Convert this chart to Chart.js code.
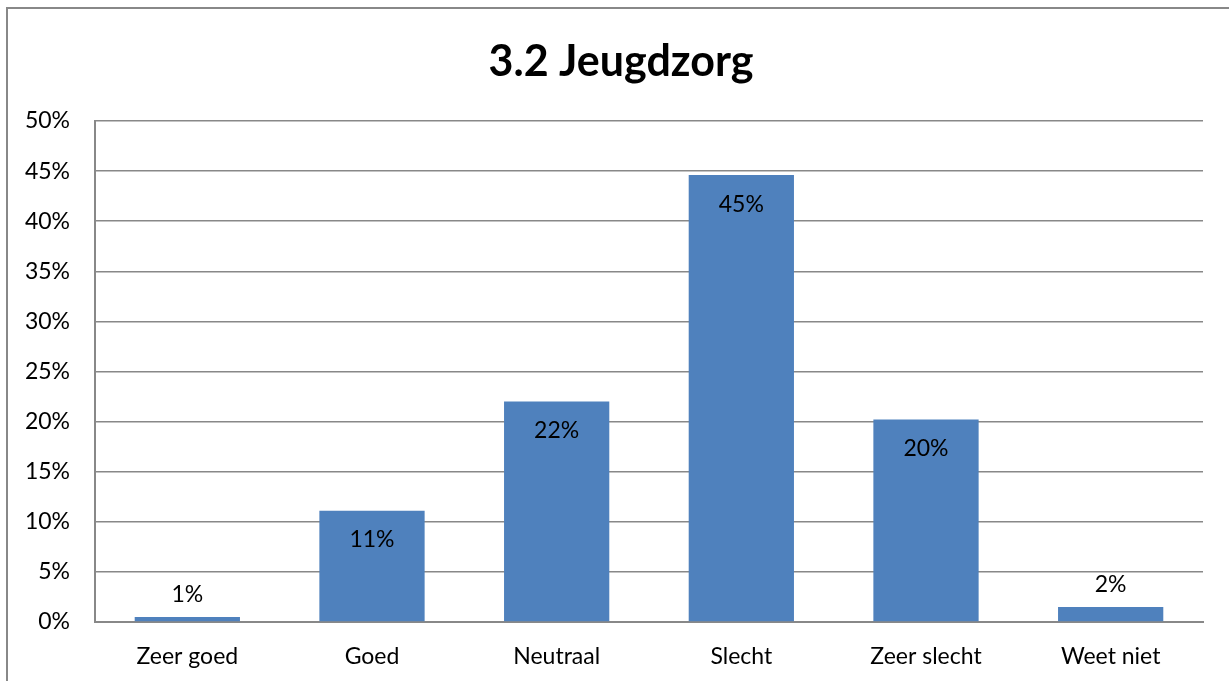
<!DOCTYPE html>
<html>
<head>
<meta charset="utf-8">
<script src="https://cdn.jsdelivr.net/npm/chart.js@4/dist/chart.umd.min.js"></script>
<style>
  html, body { margin: 0; padding: 0; background: #fff; }
  #wrap { position: relative; width: 1229px; height: 681px; overflow: hidden; }
  #frame { position: absolute; left: 6px; top: 7px; width: 1240px; height: 700px; border: 2px solid #888; box-sizing: border-box; }
  canvas { position: absolute; left: 0; top: 0; }
</style>
</head>
<body>
<div id="wrap">
  <div id="frame"></div>
  <canvas id="jeugdChart" width="1229" height="681"></canvas>
</div>
<script>
const categories = ['Zeer goed', 'Goed', 'Neutraal', 'Slecht', 'Zeer slecht', 'Weet niet'];
const values = [0.5, 11.1, 22.0, 44.6, 20.2, 1.5];
const valueLabels = ['1%', '11%', '22%', '45%', '20%', '2%'];
const yTicks = [0, 5, 10, 15, 20, 25, 30, 35, 40, 45, 50];
const chartTitle = '3.2 Jeugdzorg';

const fontFam = 'Lato, "Open Sans", sans-serif';

// title drawn over the whole picture, like the spreadsheet does
const titlePlugin = {
    id: 'titlePlugin',
    afterDraw(chart) {
        const c = chart.ctx;
        c.save();
        c.font = 'bold 43px ' + fontFam;
        c.fillStyle = '#000';
        c.textAlign = 'center';
        c.textBaseline = 'middle';
        c.fillText(chartTitle, 621, 62);
        c.restore();
    }
};

// labels at the end of each bar, inside when the bar is tall enough
const barLabels = {
    id: 'barLabels',
    afterDatasetsDraw(chart) {
        const c = chart.ctx;
        const meta = chart.getDatasetMeta(0);
        c.save();
        c.font = '23px ' + fontFam;
        c.fillStyle = '#000';
        c.textAlign = 'center';
        c.textBaseline = 'middle';
        meta.data.forEach((bar, i) => {
            const h = bar.base - bar.y;
            const y = h > 50 ? bar.y + 29 : bar.y - 22;
            c.fillText(valueLabels[i], bar.x, y);
        });
        c.restore();
    }
};

const ctx = document.getElementById('jeugdChart').getContext('2d');
const chart = new Chart(ctx, {
    type: 'bar',
    data: {
        labels: categories,
        datasets: [{ data: values, backgroundColor: '#4F81BD', barPercentage: 0.57, categoryPercentage: 1 }]
    },
    options: {
        responsive: false,
        animation: false,
        layout: { padding: { left: 0, right: 26, top: 121, bottom: 0 } },
        plugins: {
            legend: { display: false },
            tooltip: { enabled: false },
            title: { display: false }
        },
        scales: {
            x: {
                grid: { display: false, drawTicks: false },
                border: { color: '#888', width: 2 },
                ticks: { color: '#000', font: { family: fontFam, size: 23 }, padding: 21 },
                afterFit(s) { s.height = 59; }
            },
            y: {
                min: 0, max: 50,
                afterBuildTicks(s) { s.ticks = yTicks.map(v => ({ value: v })); },
                grid: { color: '#888', lineWidth: 1.5, drawTicks: false },
                border: { color: '#888', width: 2 },
                ticks: { color: '#000', font: { family: fontFam, size: 23 }, padding: 25, callback: v => v + '%' },
                afterFit(s) { s.width = 95; }
            }
        }
    },
    plugins: [barLabels, titlePlugin]
});
</script>
</body>
</html>
